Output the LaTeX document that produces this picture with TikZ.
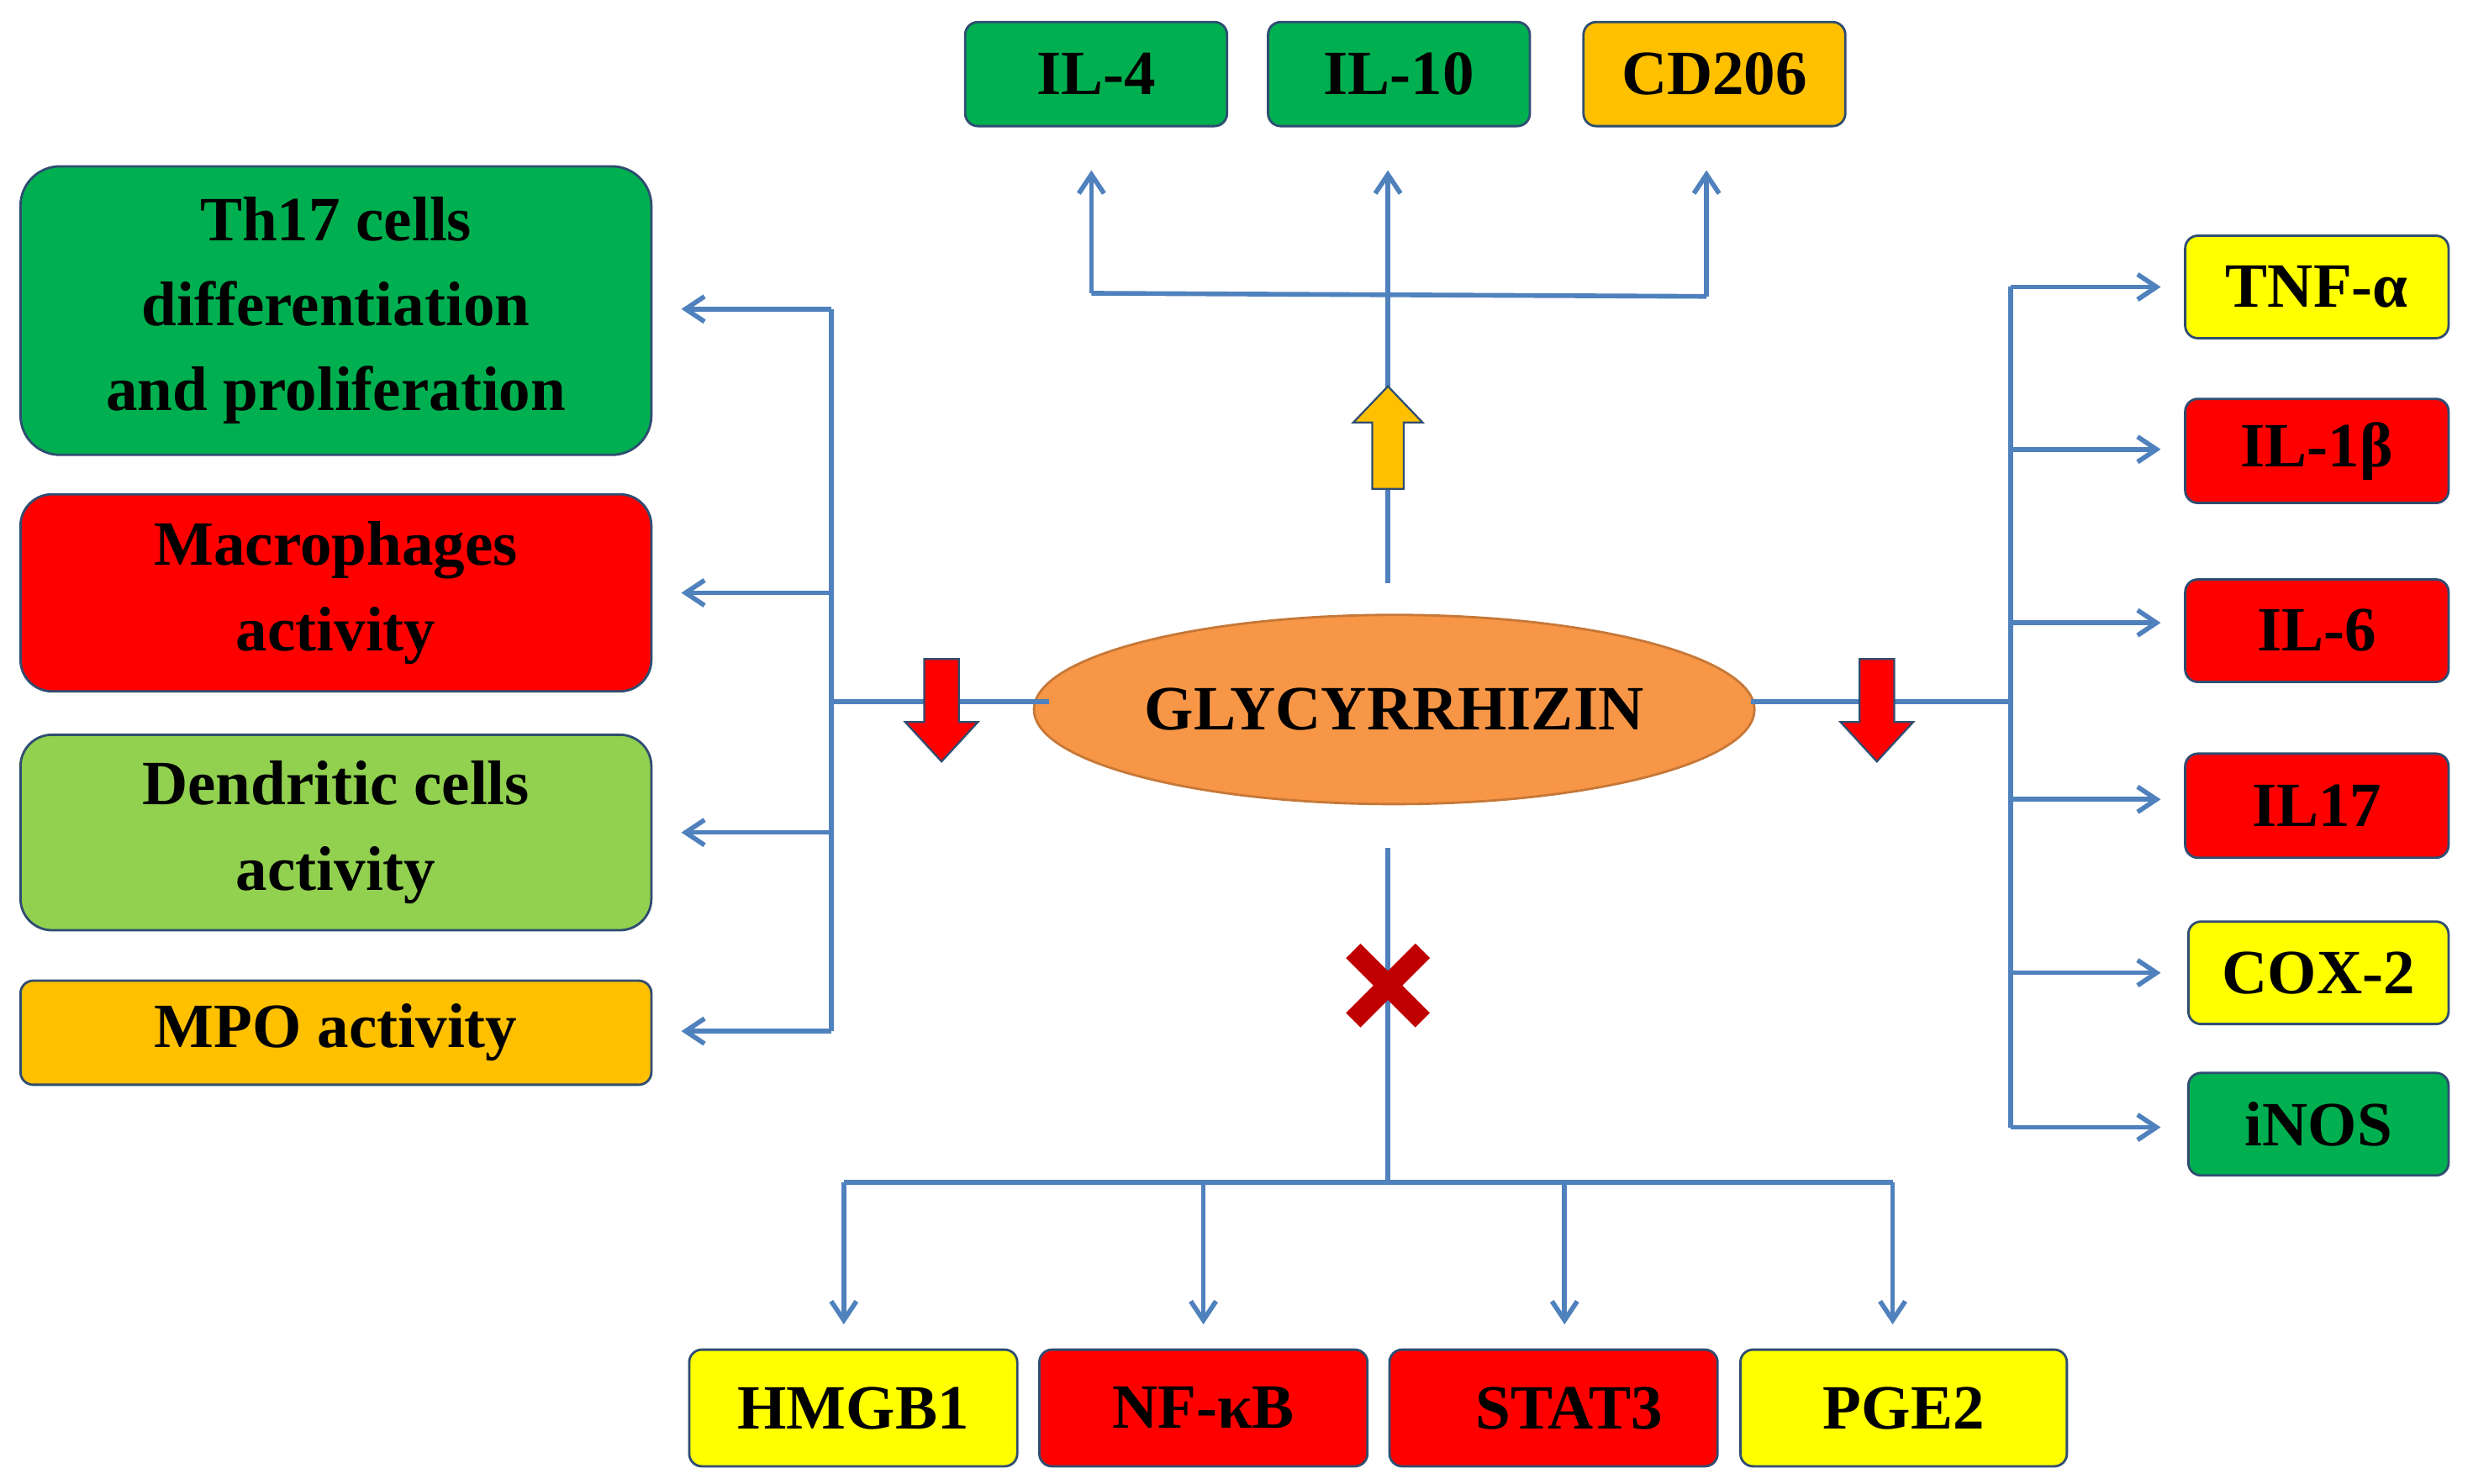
\documentclass[tikz,border=0pt]{standalone}
\usepackage{fontspec}
\setmainfont{Liberation Serif}
\usetikzlibrary{shapes.geometric,arrows.meta}
\definecolor{ln}{RGB}{79,129,189}
\definecolor{gr}{RGB}{0,176,80}
\definecolor{lg}{RGB}{146,208,80}
\definecolor{og}{RGB}{255,192,0}
\definecolor{rd}{RGB}{255,0,0}
\definecolor{yl}{RGB}{255,255,0}
\definecolor{el}{RGB}{247,150,70}
\definecolor{dr}{RGB}{192,0,0}
\tikzset{
 bx/.style={draw=ln!60!black,line width=1.5pt,rounded corners=8pt,inner sep=0pt,align=center,font=\fontsize{40}{54}\selectfont\bfseries},
 ln/.style={draw=ln,line width=3pt},
 ar/.style={ln,-{Straight Barb[length=12pt,width=16pt,line width=3pt]}},
}
\begin{document}
\begin{tikzpicture}[x=1pt,y=-1pt]
\useasboundingbox (0,0) rectangle (1568,941);
% top
\node[bx,fill=gr,minimum width=166,minimum height=66] (il4) at (695,47) {IL-4};
\node[bx,fill=gr,minimum width=166,minimum height=66] (il10) at (887,47) {IL-10};
\node[bx,fill=og,minimum width=166,minimum height=66] (cd) at (1087,47) {CD206};
% center
\node[ellipse,draw=el!80!black,line width=1.5pt,fill=el,minimum width=420,minimum height=120,font=\fontsize{40}{48}\selectfont\bfseries] (g) at (884,450) {GLYCYRRHIZIN};
% left
\node[bx,fill=gr,minimum width=400,minimum height=183,rounded corners=25pt] (th) at (213,197) {Th17 cells\\differentiation\\and proliferation};
\node[bx,fill=rd,minimum width=400,minimum height=125,rounded corners=20pt] (mac) at (213,376) {Macrophages\\activity};
\node[bx,fill=lg,minimum width=400,minimum height=124,rounded corners=20pt] (dc) at (213,528) {Dendritic cells\\activity};
\node[bx,fill=og,minimum width=400,minimum height=66] (mpo) at (213,655) {MPO activity};
% right
\node[bx,fill=yl,minimum width=167,minimum height=65] (tnf) at (1469,182) {TNF-α};
\node[bx,fill=rd,minimum width=167,minimum height=66] (il1) at (1469,286) {IL-1β};
\node[bx,fill=rd,minimum width=167,minimum height=65] (il6) at (1469,400) {IL-6};
\node[bx,fill=rd,minimum width=167,minimum height=66] (il17) at (1469,511) {IL17};
\node[bx,fill=yl,minimum width=165,minimum height=65] (cox) at (1470,617) {COX-2};
\node[bx,fill=gr,minimum width=165,minimum height=65] (inos) at (1470,713) {iNOS};
% bottom
\node[bx,fill=yl,minimum width=208,minimum height=74] (hm) at (541,893) {HMGB1};
\node[bx,fill=rd,minimum width=208,minimum height=74] (nf) at (763,893) {NF-κB};
\node[bx,fill=rd,minimum width=208,minimum height=74] (st) at (985,893) {\ \ STAT3};
\node[bx,fill=yl,minimum width=207,minimum height=74] (pg) at (1207,893) {PGE2};
% coordinates
\coordinate (tc) at (880,370); \coordinate (tj) at (880,188);
\coordinate (tl) at (692,186); \coordinate (tr) at (1082,188);
\coordinate (lh) at (665,445); \coordinate (lj) at (527,445);
\coordinate (l1) at (527,196); \coordinate (l2) at (527,376); \coordinate (l3) at (527,528); \coordinate (l4) at (527,654);
\coordinate (rh) at (1110,445); \coordinate (rj) at (1275,445);
\foreach \y/\n in {182/r1,285/r2,395/r3,507/r4,617/r5,715/r6}{\coordinate (\n) at (1275,\y);}
\coordinate (bc) at (880,538); \coordinate (bj) at (880,750);
\foreach \x/\n in {535/b1,763/b2,992/b3,1200/b4}{\coordinate (\n) at (\x,750);}
% top connectors
\draw[ln] (tc) -- (tj);
\draw[ln] (tl) -- (tr);
\draw[ar] (tj) -- (880,108);
\draw[ar] (tl) -- (692,108);
\draw[ar] (tr) -- (1082,108);
% left
\draw[ln] (lh) -- (lj);
\draw[ln] (l1) -- (l4);
\foreach \n in {l1,l2,l3,l4}{\draw[ar] (\n) -- ++(-95,0);}
% right
\draw[ln] (rh) -- (rj);
\draw[ln] (r1) -- (r6);
\foreach \n in {r1,r2,r3,r4,r5,r6}{\draw[ar] (\n) -- ++(95,0);}
% bottom
\draw[ln] (bc) -- (bj);
\draw[ln] (b1) -- (b4);
\foreach \n in {b1,b2,b3,b4}{\draw[ar] (\n) -- ++(0,90);}
% block arrows
\draw[fill=og,draw=ln!60!black,line width=1.2pt] (870,310) -- (870,268) -- (858,268) -- (880,245) -- (902,268) -- (890,268) -- (890,310) -- cycle;
\foreach \x in {597,1190}{
\draw[fill=rd,draw=ln!60!black,line width=1.2pt] (\x-11,418) -- (\x+11,418) -- (\x+11,458) -- (\x+23,458) -- (\x,483) -- (\x-23,458) -- (\x-11,458) -- cycle;}
% cross
\draw[dr,line width=13pt] (858,603) -- (902,647) (902,603) -- (858,647);
\end{tikzpicture}
\end{document}
